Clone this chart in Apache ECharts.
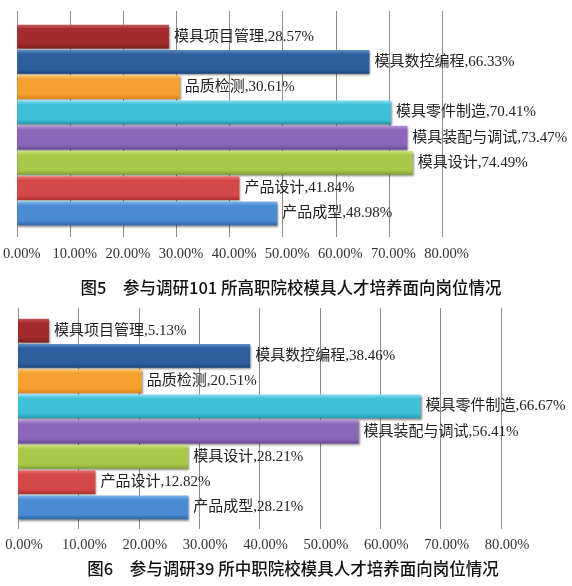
<!DOCTYPE html>
<html>
<head>
<meta charset="utf-8">
<script src="https://cdn.jsdelivr.net/npm/echarts@6/dist/echarts.min.js"></script>
<style>
html,body{margin:0;padding:0;background:#fff;}
#chart{width:572px;height:586px;}
</style>
</head>
<body>
<div id="chart"></div>
<script>
// Data
const categories = ['模具项目管理','模具数控编程','品质检测','模具零件制造','模具装配与调试','模具设计','产品设计','产品成型'];
const higherVocational = [28.57, 66.33, 30.61, 70.41, 73.47, 74.49, 41.84, 48.98];
const secondaryVocational = [5.13, 38.46, 20.51, 66.67, 56.41, 28.21, 12.82, 28.21];
const axisMin = 0, axisMax = 80, axisStep = 10;
const caption1 = '图5　参与调研101 所高职院校模具人才培养面向岗位情况';
const caption2 = '图6　参与调研39 所中职院校模具人才培养面向岗位情况';

// Styles: [light top, main, dark bottom]
const palette = [
  ['#c85a5a','#a32b2d','#7e1f20'],
  ['#5f8cc4','#2d5f9e','#1d467c'],
  ['#fcc466','#f6a030','#dc861c'],
  ['#86def0','#3ec0d8','#2698b4'],
  ['#b496dc','#8c66b8','#6a4894'],
  ['#cde276','#a8c84a','#86a534'],
  ['#ec7474','#d44848','#b03030'],
  ['#80b4ea','#4a8cd4','#3068aa']
];

function grad(c){
  return new echarts.graphic.LinearGradient(0,0,0,1,[
    {offset:0,color:c[0]},{offset:0.18,color:c[1]},{offset:0.8,color:c[1]},{offset:1,color:c[2]}
  ]);
}
function seriesData(vals){
  return vals.map((v,i)=>({value:v, name:categories[i], itemStyle:{color:grad(palette[i])}}));
}

const gridColor = '#8c8c8c';
const labelFont = '"Liberation Serif", "Noto Sans CJK SC", serif';

function makeAxes(gi, topTick, bottomTick, labelMargin, labelPad){
  return {
    x: [
      { gridIndex:gi, type:'value', min:axisMin, max:axisMax, interval:axisStep, position:'bottom',
        axisLine:{show:false},
        axisTick:{show:true, length:bottomTick, lineStyle:{color:gridColor, width:1}},
        splitLine:{show:true, lineStyle:{color:gridColor, width:1}},
        axisLabel:{show:true, margin:labelMargin, padding:[0,0,0,labelPad], fontFamily:labelFont, fontSize:14.5, color:'#333',
          formatter:v=>v.toFixed(2)+'%'} },
      { gridIndex:gi, type:'value', min:axisMin, max:axisMax, interval:axisStep, position:'top',
        axisLine:{show:false},
        axisTick:{show:true, length:topTick, lineStyle:{color:gridColor, width:1}},
        splitLine:{show:false}, axisLabel:{show:false} }
    ],
    y: { gridIndex:gi, type:'category', data:categories, inverse:true,
      axisLine:{show:true, lineStyle:{color:gridColor, width:1}},
      axisTick:{show:false}, axisLabel:{show:false}, splitLine:{show:false} }
  };
}

const a1 = makeAxes(0, 13, 11, 21, 9);
const a2 = makeAxes(1, 10, 9, 18, 12);

function barSeries(xi, yi, vals){
  return {
    type:'bar', xAxisIndex:xi, yAxisIndex:yi, data:seriesData(vals),
    barCategoryGap:'6%',
    itemStyle:{shadowColor:'rgba(0,0,0,0.45)', shadowBlur:2, shadowOffsetX:1, shadowOffsetY:1.5},
    label:{show:true, position:'right', distance:5, fontFamily:labelFont, fontSize:15, color:'#222',
      formatter:p=>p.name+','+Number(p.value).toFixed(2)+'%'},
    animation:false
  };
}

const chart = echarts.init(document.getElementById('chart'), null, {renderer:'canvas'});
chart.setOption({
  backgroundColor:'#ffffff',
  animation:false,
  grid:[
    {left:15, right:130, top:24, height:202},
    {left:18, right:71, top:318, height:202}
  ],
  xAxis:[a1.x[0], a1.x[1], a2.x[0], a2.x[1]],
  yAxis:[a1.y, a2.y],
  series:[
    barSeries(0, 0, higherVocational),
    barSeries(2, 1, secondaryVocational)
  ],
  graphic:[
    {type:'text', x:291, y:288, style:{text:caption1, fontFamily:'"Noto Sans CJK SC", sans-serif', fontSize:16.5, fontWeight:500, fill:'#111', align:'center', verticalAlign:'middle'}},
    {type:'text', x:293, y:569, style:{text:caption2, fontFamily:'"Noto Sans CJK SC", sans-serif', fontSize:16.5, fontWeight:500, fill:'#111', align:'center', verticalAlign:'middle'}}
  ]
});
</script>
</body>
</html>
